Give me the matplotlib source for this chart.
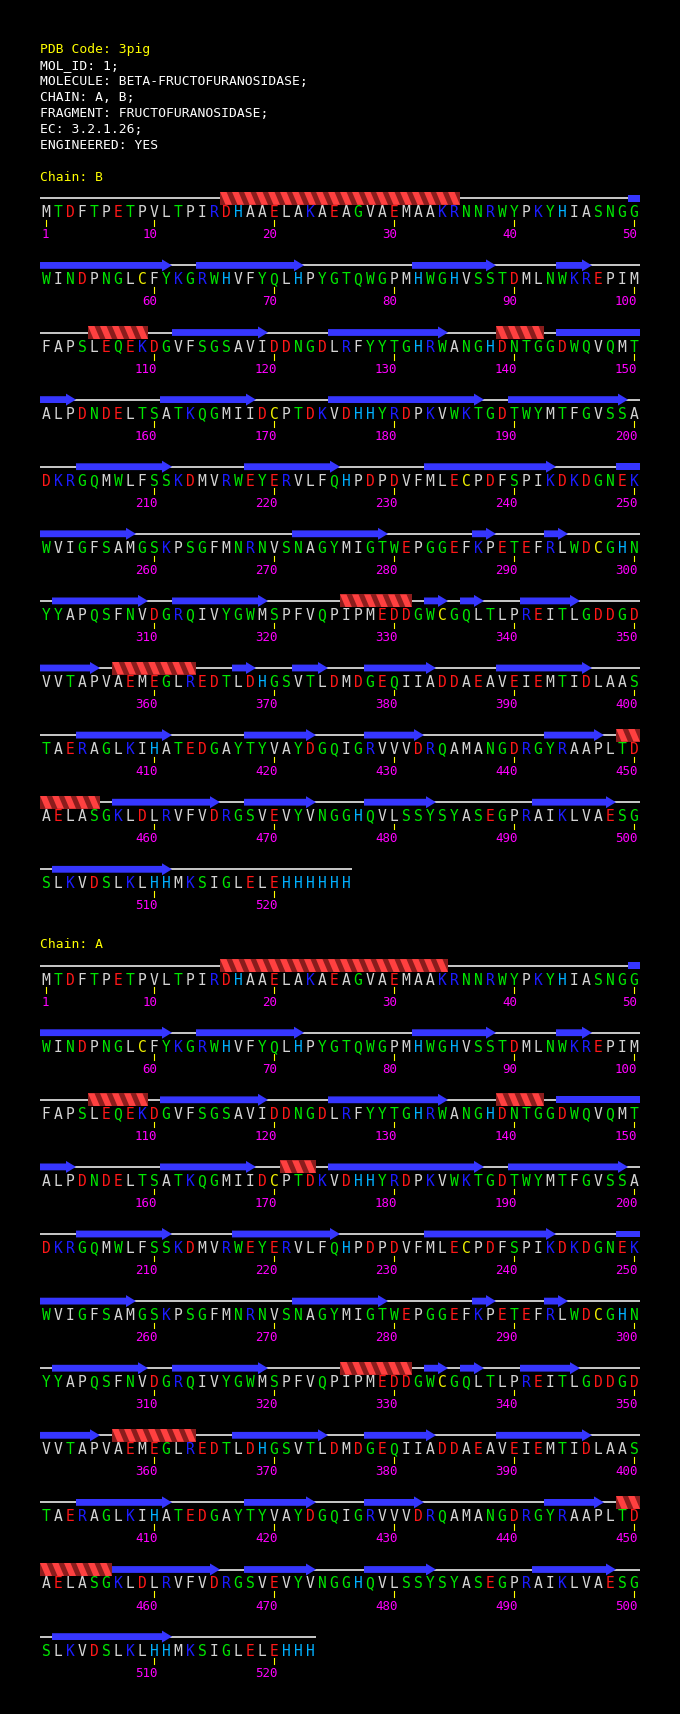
import matplotlib
matplotlib.use("Agg")
import matplotlib.pyplot as plt
from matplotlib.patches import Polygon, Rectangle

# header lines of the PDB entry
HEADER = [
    "PDB Code: 3pig",
    "MOL_ID: 1;",
    "MOLECULE: BETA-FRUCTOFURANOSIDASE;",
    "CHAIN: A, B;",
    "FRAGMENT: FRUCTOFURANOSIDASE;",
    "EC: 3.2.1.26;",
    "ENGINEERED: YES",
]

SEQ_LINES = [
    "MTDFTPETPVLTPIRDHAAELAKAEAGVAEMAAKRNNRWYPKYHIASNGG",
    "WINDPNGLCFYKGRWHVFYQLHPYGTQWGPMHWGHVSSTDMLNWKREPIM",
    "FAPSLEQEKDGVFSGSAVIDDNGDLRFYYTGHRWANGHDNTGGDWQVQMT",
    "ALPDNDELTSATKQGMIIDCPTDKVDHHYRDPKVWKTGDTWYMTFGVSSA",
    "DKRGQMWLFSSKDMVRWEYERVLFQHPDPDVFMLECPDFSPIKDKDGNEK",
    "WVIGFSAMGSKPSGFMNRNVSNAGYMIGTWEPGGEFKPETEFRLWDCGHN",
    "YYAPQSFNVDGRQIVYGWMSPFVQPIPMEDDGWCGQLTLPREITLGDDGD",
    "VVTAPVAEMEGLREDTLDHGSVTLDMDGEQIIADDAEAVEIEMTIDLAAS",
    "TAERAGLKIHATEDGAYTYVAYDGQIGRVVVDRQAMANGDRGYRAAPLTD",
    "AELASGKLDLRVFVDRGSVEVYVNGGHQVLSSYSYASEGPRAIKLVAESG",
    "SLKVDSLKLHHMKSIGLELEHHHHHH",
]
SEQ = "".join(SEQ_LINES)

CHAIN_NAMES = ["B", "A"]
CHAIN_LEN = {"B": 526, "A": 523}

B_HELIX = [(16, 35), (105, 109), (139, 142), (326, 331), (357, 363), (449, 455)]
B_STRAND = [(50, 61), (64, 72), (82, 88), (94, 96), (112, 119), (125, 134),
            (144, 153), (161, 168), (175, 187), (190, 199), (204, 211),
            (218, 225), (233, 243), (249, 258), (272, 279), (287, 288),
            (293, 294), (302, 309), (312, 319), (333, 334), (336, 337),
            (341, 345), (351, 355), (367, 368), (372, 374), (378, 383),
            (389, 396), (404, 411), (418, 423), (428, 432), (443, 447),
            (457, 465), (468, 473), (478, 483), (492, 498), (502, 511)]

A_HELIX = [(16, 34), (105, 109), (139, 142), (171, 173), (326, 331),
           (357, 363), (449, 456)]
A_STRAND = [(50, 61), (64, 72), (82, 88), (94, 96), (111, 119), (125, 134),
            (144, 153), (161, 168), (175, 187), (190, 199), (204, 211),
            (217, 225), (233, 243), (249, 258), (272, 279), (287, 288),
            (293, 294), (302, 309), (312, 319), (333, 334), (336, 337),
            (341, 345), (351, 355), (367, 374), (378, 383), (389, 396),
            (404, 411), (418, 423), (428, 432), (443, 447), (457, 465),
            (468, 473), (478, 483), (492, 498), (502, 511)]

SS = {"B": (B_HELIX, B_STRAND), "A": (A_HELIX, A_STRAND)}

# residue colouring by type
GROUPS = {
    "AVLIPFM": "#d4d4d4",
    "GSTNQYW": "#00e600",
    "DE": "#ff1818",
    "KR": "#1c1cff",
    "H": "#00b0ff",
    "C": "#f0f000",
}
RES_COLOR = {aa: col for grp, col in GROUPS.items() for aa in grp}

PER_LINE = 50
X0 = 40
STEP = 12
ROW_H = 67.1
MONO = "DejaVu Sans Mono"
HELIX_LIGHT = "#ff4040"
HELIX_DARK = "#8a1c1c"
STRAND_COL = "#3636ff"


def draw_helix(ax, xl, xr, yc):
    top, bot = yc - 6.5, yc + 6.5
    band = Rectangle((xl, top), xr - xl, bot - top, facecolor=HELIX_DARK,
                     edgecolor="none", zorder=3)
    ax.add_patch(band)
    x = xl - STEP
    while x < xr:
        p = Polygon([(x, top), (x + 6.5, top), (x + 12, bot), (x + 5.5, bot)],
                    closed=True, facecolor=HELIX_LIGHT, edgecolor="none",
                    zorder=4)
        ax.add_patch(p)
        p.set_clip_path(band)
        x += STEP


def draw_strand(ax, xl, xr, yc, head):
    if head:
        hx = max(xr - 10, xl)
        pts = [(xl, yc - 3.4), (hx, yc - 3.4), (hx, yc - 6), (xr, yc),
               (hx, yc + 6), (hx, yc + 3.4), (xl, yc + 3.4)]
    else:
        pts = [(xl, yc - 3.4), (xr, yc - 3.4), (xr, yc + 3.4), (xl, yc + 3.4)]
    ax.add_patch(Polygon(pts, closed=True, facecolor=STRAND_COL,
                         edgecolor="none", zorder=3))


fig = plt.figure(figsize=(6.8, 17.14), dpi=100, facecolor="black")
ax = fig.add_axes([0, 0, 1, 1])
ax.set_facecolor("black")
ax.set_xlim(0, 680)
ax.set_ylim(1714, 0)
ax.axis("off")

for i, line in enumerate(HEADER):
    ax.text(X0, 53.3 + 16 * i, line, color="#ffff00" if i == 0 else "white",
            family=MONO, fontsize=9.4, va="baseline", ha="left")

label_y = 180.7
for chain in CHAIN_NAMES:
    n = CHAIN_LEN[chain]
    helices, strands = SS[chain]
    ax.text(X0, label_y, "Chain: " + chain, color="#ffff00", family=MONO,
            fontsize=9.4, va="baseline", ha="left")
    nrows = (n + PER_LINE - 1) // PER_LINE
    for r in range(nrows):
        base = label_y + 36.6 + ROW_H * r
        yc = base - 19
        first = r * PER_LINE + 1
        last = min(first + PER_LINE - 1, n)
        # coil backbone
        ax.plot([X0, X0 + STEP * (last - first + 1)], [yc, yc], color="white",
                lw=1.1, solid_capstyle="butt", zorder=2)
        for s, e in helices:
            cs, ce = max(s, first), min(e, last)
            if cs <= ce:
                draw_helix(ax, X0 + STEP * (cs - first), X0 + STEP * (ce - first + 1), yc)
        for s, e in strands:
            cs, ce = max(s, first), min(e, last)
            if cs <= ce:
                draw_strand(ax, X0 + STEP * (cs - first),
                            X0 + STEP * (ce - first + 1), yc, head=(ce == e))
        for k in range(first, last + 1):
            aa = SEQ[k - 1]
            xc = X0 + STEP * (k - first) + 6
            ax.text(xc, base, aa, color=RES_COLOR[aa], family=MONO,
                    fontsize=10.5, va="baseline", ha="center")
            if k == 1 or k % 10 == 0:
                ax.plot([xc, xc], [base + 2.7, base + 8.2], color="#ffff00",
                        lw=0.8, zorder=2)
                ax.text(xc + 3.5, base + 21, str(k), color="#ff00ff",
                        family=MONO, fontsize=9, va="baseline", ha="right")
    label_y += 36.6 + ROW_H * (nrows - 1) + 59.7

fig.savefig("out.png", dpi=100, facecolor="black")
